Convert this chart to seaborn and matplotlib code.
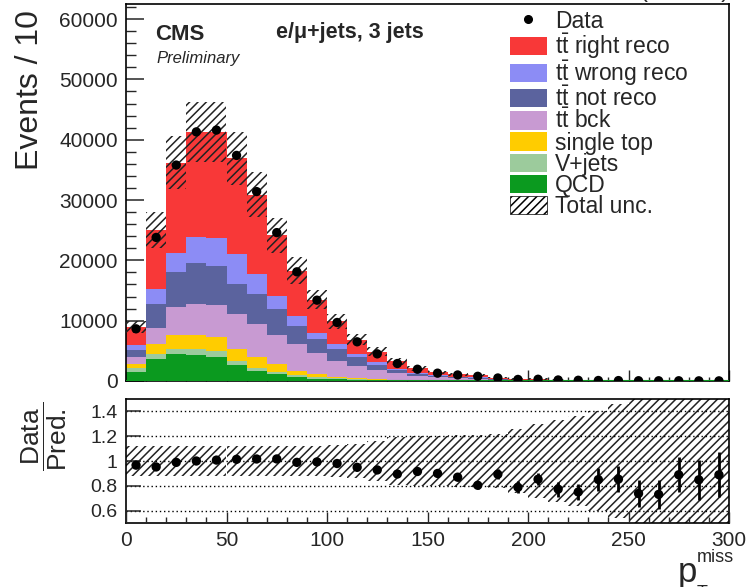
import numpy as np
import pandas as pd
import matplotlib
matplotlib.use("Agg")
import matplotlib.pyplot as plt
import seaborn as sns
from matplotlib.patches import Patch
from matplotlib.lines import Line2D
from matplotlib.ticker import MultipleLocator, FixedLocator

# ---------------- data ----------------
bin_edges = list(range(0, 310, 10))
bin_centers = [5 + 10 * i for i in range(30)]

tt_right    = [3050, 9800, 14900, 17500, 17600, 15900, 13200, 10100, 7500, 5500, 3800, 2450, 1750, 1190, 780, 515, 430, 370, 213, 125, 130, 83, 61, 37, 30, 23, 19, 16, 12, 10]
tt_wrong    = [800, 2500, 3300, 4200, 4600, 5000, 3300, 2200, 1700, 1100, 800, 500, 400, 250, 150, 100, 70, 60, 35, 20, 21, 13, 10, 6, 5, 4, 3, 3, 2, 2]
tt_not_reco = [1100, 3900, 5800, 6800, 6500, 4900, 5000, 4200, 3000, 2200, 2000, 1400, 900, 550, 350, 230, 170, 140, 80, 48, 49, 32, 23, 15, 12, 9, 8, 7, 5, 4]
tt_bck      = [1200, 2700, 4600, 5100, 5300, 5800, 5500, 4900, 4400, 3600, 2600, 2000, 1450, 1030, 700, 490, 395, 330, 190, 112, 115, 75, 55, 35, 28, 21, 18, 16, 11, 9]
single_top  = [700, 1600, 2300, 2400, 2400, 2000, 1700, 1300, 700, 400, 250, 200, 150, 90, 60, 45, 35, 30, 18, 11, 11, 7, 5, 3, 3, 2, 2, 1, 1, 1]
vjets       = [600, 900, 900, 1000, 1000, 700, 500, 400, 300, 300, 200, 150, 100, 60, 40, 30, 25, 20, 12, 7, 7, 5, 3, 2, 2, 1, 1, 1, 1, 0]
qcd         = [1500, 3600, 4400, 4300, 3900, 2600, 1700, 1100, 700, 400, 250, 150, 100, 70, 50, 35, 25, 20, 12, 7, 7, 5, 3, 2, 2, 1, 1, 1, 1, 1]

data = [8650, 23800, 35800, 41300, 41600, 37400, 31400, 24600, 18100, 13400, 9700, 6500, 4500, 2900, 1950,
        1300, 1000, 780, 500, 260, 290, 170, 120, 85, 70, 45, 38, 40, 28, 24]

# relative total uncertainty per bin
total_unc = [0.12, 0.12, 0.12, 0.12, 0.12, 0.12, 0.12, 0.12, 0.12, 0.12, 0.13, 0.14, 0.16, 0.19, 0.20,
             0.20, 0.21, 0.21, 0.22, 0.26, 0.30, 0.33, 0.36, 0.40, 0.46, 0.52, 0.60, 0.60, 0.60, 0.60]

# stack order: top to bottom (seaborn puts the first hue level on top)
proc_names = ["tt right reco", "tt wrong reco", "tt not reco", "tt bck", "single top", "V+jets", "QCD"]
proc_values = [tt_right, tt_wrong, tt_not_reco, tt_bck, single_top, vjets, qcd]
proc_colors = ["#f83838", "#8c8cf5", "#5b639e", "#c89ad2", "#ffcc00", "#9ccb9c", "#0b9a1f"]
legend_labels = ["Data", r"$\mathrm{t\bar{t}}$ right reco", r"$\mathrm{t\bar{t}}$ wrong reco",
                 r"$\mathrm{t\bar{t}}$ not reco", r"$\mathrm{t\bar{t}}$ bck", "single top", "V+jets", "QCD", "Total unc."]

yticks_ratio = [0.6, 0.8, 1.0, 1.2, 1.4]
yticklabels_ratio = ["0.6", "0.8", "1", "1.2", "1.4"]

# ---------------- style ----------------
sns.set_theme(style="ticks")
plt.rcParams["font.family"] = ["Liberation Sans", "DejaVu Sans"]
plt.rcParams["mathtext.fontset"] = "custom"
plt.rcParams["mathtext.rm"] = "Liberation Sans"
plt.rcParams["mathtext.it"] = "Liberation Sans:italic"
plt.rcParams["mathtext.bf"] = "Liberation Sans:bold"
plt.rcParams["hatch.linewidth"] = 1.1
plt.rcParams["axes.linewidth"] = 1.2

W, H = 747, 587
fig = plt.figure(figsize=(W / 100, H / 100), dpi=100)
fig.patch.set_facecolor("white")

def fx(px):
    return px / W

def fy(py):
    return 1 - py / H

ax = fig.add_axes([fx(126), fy(381), fx(729) - fx(126), fy(4) - fy(381)])
axr = fig.add_axes([fx(126), fy(523), fx(729) - fx(126), fy(399) - fy(523)])

# ---------------- stacked histogram ----------------
rows = []
for name, vals in zip(proc_names, proc_values):
    for c, v in zip(bin_centers, vals):
        rows.append({"x": c, "w": v, "process": name})
df = pd.DataFrame(rows)

sns.histplot(data=df, x="x", weights="w", hue="process", hue_order=proc_names,
             bins=bin_edges, multiple="stack", element="step", fill=True,
             palette=dict(zip(proc_names, proc_colors)), alpha=1, linewidth=0,
             legend=False, ax=ax, zorder=2)

total = np.sum(np.array(proc_values, dtype=float), axis=0)
unc = np.array(total_unc)
centers = np.array(bin_centers, dtype=float)
d = np.array(data, dtype=float)

ax.bar(centers, 2 * unc * total, bottom=total * (1 - unc), width=10, fill=False,
       hatch="////", edgecolor="#222222", linewidth=0, zorder=3)
ax.axhline(0, color="#0b9a1f", lw=1.5, zorder=3)

ax.errorbar(centers, d, yerr=np.sqrt(d), fmt="none", ecolor="black", elinewidth=1.5, zorder=4)
sns.scatterplot(x=centers, y=d, color="black", s=45, edgecolor="none", ax=ax, zorder=5)

ax.set_xlim(0, 300)
ax.set_ylim(0, 62500)
ax.set_xlabel("")
ax.set_ylabel("")
ax.yaxis.set_major_locator(MultipleLocator(10000))
ax.yaxis.set_minor_locator(MultipleLocator(2000))
ax.xaxis.set_major_locator(MultipleLocator(50))
ax.xaxis.set_minor_locator(MultipleLocator(10))
ax.tick_params(axis="y", which="major", direction="in", length=13, width=1.1, labelsize=15, pad=6, left=True, right=False)
ax.tick_params(axis="y", which="minor", direction="in", length=7, width=1.0, left=True, right=False)
ax.tick_params(axis="x", which="major", direction="in", length=8, width=1.0, labelbottom=False, top=False)
ax.tick_params(axis="x", which="minor", direction="in", length=3, width=1.0, top=False)
for s in ax.spines.values():
    s.set_visible(True)
    s.set_color("black")

# ---------------- ratio panel ----------------
ratio = d / total
ratio_err = np.sqrt(d) / total

axr.bar(centers, 2 * unc, bottom=1 - unc, width=10, fill=False, hatch="////",
        edgecolor="#222222", linewidth=0, zorder=2)
axr.errorbar(centers, ratio, yerr=ratio_err, fmt="none", ecolor="black", elinewidth=2, zorder=4)
sns.scatterplot(x=centers, y=ratio, color="black", s=45, edgecolor="none", ax=axr, zorder=5)

axr.set_xlim(0, 300)
axr.set_ylim(0.5, 1.5)
axr.set_xlabel("")
axr.set_ylabel("")
axr.yaxis.set_major_locator(FixedLocator(yticks_ratio))
axr.set_yticklabels(yticklabels_ratio)
axr.xaxis.set_major_locator(MultipleLocator(50))
axr.xaxis.set_minor_locator(MultipleLocator(10))
axr.yaxis.grid(True, linestyle=(0, (1, 2)), color="black", lw=1.0)
axr.xaxis.grid(False)
axr.set_axisbelow(False)
axr.tick_params(axis="y", which="major", direction="in", length=11, width=1.1, labelsize=14, pad=6, right=False)
axr.tick_params(axis="x", which="major", direction="in", length=8, width=1.0, labelsize=15, pad=6, top=False)
axr.tick_params(axis="x", which="minor", direction="in", length=4, width=1.0, top=False)
for s in axr.spines.values():
    s.set_visible(True)
    s.set_color("black")

# ---------------- legend ----------------
handles = [Line2D([], [], marker="o", color="black", linestyle="none", markersize=5.5)]
for col in proc_colors:
    handles.append(Patch(facecolor=col, edgecolor="none"))
handles.append(Patch(facecolor="white", edgecolor="black", hatch="////", linewidth=0.5))
leg = fig.legend(handles, legend_labels, loc="upper left",
                 bbox_to_anchor=(fx(510), fy(10)), bbox_transform=fig.transFigure,
                 frameon=False, fontsize=16.5, handlelength=1.6, handleheight=0.85,
                 handletextpad=0.35, labelspacing=-0.08, borderpad=0, borderaxespad=0)

# ---------------- texts ----------------
fig.text(fx(155), fy(40), "CMS", fontsize=16, fontweight="bold", va="baseline", ha="left")
fig.text(fx(156), fy(63), "Preliminary", fontsize=12, fontstyle="italic", va="baseline", ha="left")
fig.text(fx(276), fy(38), "e/μ+jets, 3 jets", fontsize=15.5, fontweight="bold", va="baseline", ha="left")
fig.text(fx(729), fy(-3), "(13 TeV)", fontsize=17, va="baseline", ha="right")

fig.text(fx(30), fy(10), "Events / 10", fontsize=23, rotation=90, ha="center", va="top")
fig.text(fx(44), fy(436), r"$\dfrac{\mathrm{Data}}{\mathrm{Pred.}}$", fontsize=19, rotation=90, ha="center", va="center")

fig.text(fx(697), fy(582), "p", fontsize=25, ha="right", va="baseline")
fig.text(fx(697), fy(562), "miss", fontsize=13, ha="left", va="baseline")
fig.text(fx(697), fy(598), "T", fontsize=13, ha="left", va="baseline")

fig.savefig("out.png", dpi=100, facecolor="white")
